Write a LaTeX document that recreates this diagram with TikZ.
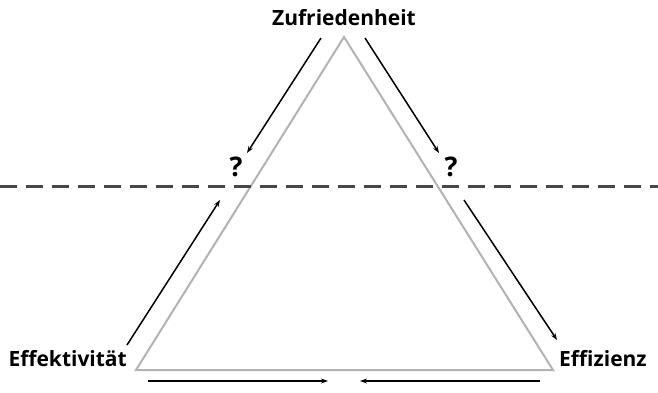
\documentclass[tikz,border=0pt]{standalone}
\usepackage{fontspec}
\setmainfont{Open Sans}
\usetikzlibrary{arrows.meta}
\begin{document}
\begin{tikzpicture}[x=1pt,y=-1pt,
  lbl/.style={font=\bfseries\fontsize{21}{24}\selectfont, inner sep=0pt},
  qmark/.style={font=\bfseries\fontsize{27}{30}\selectfont, inner sep=0pt},
  edge/.style={draw=black!30, line width=2pt, line join=miter},
  flow/.style={draw=black, line width=1.5pt, -{Stealth[length=7pt,width=5pt]}},
  divider/.style={draw=black!72, line width=3pt, dash pattern=on 17pt off 9pt}]
\useasboundingbox (0,0) rectangle (658,392);
% corners of the triangle
\coordinate (top) at (344,37);
\coordinate (bl) at (136,370);
\coordinate (br) at (553,370);
\draw[edge] (top) -- (bl) -- (br) -- cycle;
% dashed divider
\coordinate (dl) at (0,186);
\coordinate (dr) at (658,186);
\draw[divider] (dl) -- (dr);
% labels
\node[lbl] (zuf) at (344,18) {Zufriedenheit};
\node[lbl, anchor=east] (eff) at (127,359) {Effektivität};
\node[lbl, anchor=west] (ez) at (559,359) {Effizienz};
\node[qmark] (q1) at (236,167) {?};
\node[qmark] (q2) at (451,167) {?};
% arrow end points
\coordinate (a1s) at (321,38); \coordinate (a1e) at (247,153);
\coordinate (a2s) at (365,38); \coordinate (a2e) at (439,153);
\coordinate (a3s) at (127,345); \coordinate (a3e) at (220,200);
\coordinate (a4s) at (464,200); \coordinate (a4e) at (557,340);
\coordinate (a5s) at (148,381); \coordinate (a5e) at (328,381);
\coordinate (a6s) at (540,381); \coordinate (a6e) at (360,381);
\draw[flow] (a1s) -- (a1e);
\draw[flow] (a2s) -- (a2e);
\draw[flow] (a3s) -- (a3e);
\draw[flow] (a4s) -- (a4e);
\draw[flow] (a5s) -- (a5e);
\draw[flow] (a6s) -- (a6e);
\end{tikzpicture}
\end{document}
